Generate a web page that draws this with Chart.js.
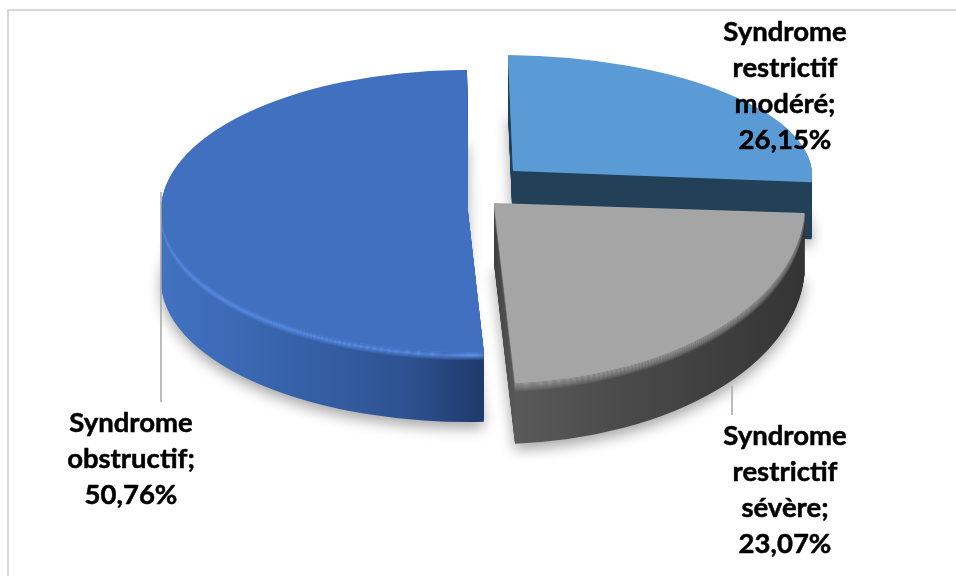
<!DOCTYPE html>
<html>
<head>
<meta charset="utf-8">
<title>Syndromes</title>
<script src="https://cdn.jsdelivr.net/npm/chart.js@4"></script>
<style>
    html, body { margin: 0; padding: 0; background: #fff; }
    canvas { display: block; }
</style>
</head>
<body>
<canvas id="graficaSyndromes" width="956" height="576"></canvas>
<script>
var categories = ['Syndrome restrictif modéré', 'Syndrome restrictif sévère', 'Syndrome obstructif'];
var values = [26.15, 23.07, 50.76];
var labelLines = [
    ['Syndrome', 'restrictif', 'modéré;'],
    ['Syndrome', 'restrictif', 'sévère;'],
    ['Syndrome', 'obstructif;']
];
var faceColors = ['#5b9bd5', '#a5a5a5', '#4270c0'];

// each slice gets its own tilt: apex on the canvas, then the "3 o'clock" and "6 o'clock" radii
var slices = [
    { apex: [513, 170], right: [299, 3], down: [5, 115], depth: 58, rim: '#5b9bd5', rimPeak: 1, rimSize: 1,
      wall: [[0, '#234059'], [1, '#234059']] },
    { apex: [494, 203], right: [311, -3], down: [6, 180], depth: 61, rim: '#7a7a7a', rimPeak: 6, rimSize: 10,
      wall: [[0.5, '#404040'], [0.525, '#5a5a5a'], [0.7, '#4a4a4a'], [1, '#343434']] },
    { apex: [468, 211], right: [307, 0], down: [1, 141], depth: 70, rim: '#5a8fe8', rimPeak: 4, rimSize: 9,
      wall: [[0, '#4272c0'], [0.2, '#3763ab'], [0.4, '#2e5291'], [0.52, '#1f3a6c']] }
];
var drawOrder = [0, 2, 1];

var labelSpots = [
    { x: 785, y: 32, pitch: 36 },
    { x: 785, y: 436, pitch: 36 },
    { x: 131, y: 423, pitch: 36 }
];
var leaders = [
    [[161, 192], [161, 402]],
    [[732, 386], [732, 415]]
];

function hexToRgb(hex) {
    return [1, 3, 5].map(function (i) { return parseInt(hex.substr(i, 2), 16); });
}

function mix(a, b, t, alpha) {
    var ca = hexToRgb(a), cb = hexToRgb(b);
    var c = ca.map(function (v, i) { return Math.round(v + (cb[i] - v) * t); });
    return 'rgba(' + c.join(',') + ',' + alpha + ')';
}

function drawArc(ctx, arc, fill) {
    var original = arc.options;
    arc.options = Object.assign({}, original, { backgroundColor: fill, borderWidth: 0 });
    arc.draw(ctx);
    arc.options = original;
}

var pie3d = {
    id: 'pie3d',
    beforeDraw: function (chart) {
        var ctx = chart.ctx;
        ctx.save();
        ctx.fillStyle = '#d9d9d9';
        ctx.fillRect(7, 9, 949, 2);
        ctx.fillRect(7, 9, 2, 567);
        ctx.restore();
    },
    beforeDatasetDraw: function (chart) {
        var ctx = chart.ctx;
        var arcs = chart.getDatasetMeta(0).data;

        drawOrder.forEach(function (i) {
            var arc = arcs[i], s = slices[i], R = arc.outerRadius;
            var face = faceColors[i];

            var place = function (dy) {
                ctx.translate(s.apex[0], s.apex[1] + dy);
                ctx.transform(s.right[0] / R, s.right[1] / R, s.down[0] / R, s.down[1] / R, 0, 0);
                ctx.translate(-arc.x, -arc.y);
            };

            var grad = ctx.createLinearGradient(arc.x - R, 0, arc.x + R, 0);
            s.wall.forEach(function (stop) { grad.addColorStop(stop[0], stop[1]); });

            // wall, stacked from the bottom up; the top layers get a soft rim over them
            for (var dy = s.depth; dy > 0; dy--) {
                ctx.save();
                if (dy === s.depth) {
                    ctx.shadowColor = 'rgba(0,0,0,0.35)';
                    ctx.shadowBlur = 14;
                    ctx.shadowOffsetY = 6;
                }
                place(dy);
                drawArc(ctx, arc, grad);
                ctx.shadowColor = 'transparent';
                if (dy <= s.rimSize) {
                    var t = Math.min(dy / s.rimPeak, 1);
                    var a = dy <= s.rimPeak ? 1 : 1 - (dy - s.rimPeak) / (s.rimSize - s.rimPeak);
                    drawArc(ctx, arc, mix(face, s.rim, t, a));
                }
                ctx.restore();
            }

            ctx.save();
            place(0);
            drawArc(ctx, arc, face);
            ctx.restore();
        });
        return false;
    },
    afterDraw: function (chart) {
        var ctx = chart.ctx;
        ctx.save();

        ctx.strokeStyle = '#a6a6a6';
        ctx.lineWidth = 1.5;
        leaders.forEach(function (l) {
            ctx.beginPath();
            ctx.moveTo(l[0][0], l[0][1]);
            ctx.lineTo(l[1][0], l[1][1]);
            ctx.stroke();
        });

        ctx.fillStyle = '#000';
        ctx.strokeStyle = '#000';
        ctx.lineWidth = 0.5;
        ctx.lineJoin = 'round';
        ctx.font = 'bold 27.5px Lato';
        ctx.textAlign = 'center';
        ctx.textBaseline = 'middle';
        labelSpots.forEach(function (spot, i) {
            var lines = labelLines[i].concat(values[i].toFixed(2).replace('.', ',') + '%');
            lines.forEach(function (line, n) {
                ctx.fillText(line, spot.x, spot.y + n * spot.pitch);
                ctx.strokeText(line, spot.x, spot.y + n * spot.pitch);
            });
        });
        ctx.restore();
    }
};

var ctx = document.getElementById('graficaSyndromes').getContext('2d');
var chart = new Chart(ctx, {
    type: 'pie',
    data: {
        labels: categories,
        datasets: [
            {
                backgroundColor: faceColors,
                borderWidth: 0,
                data: values
            }
        ]
    },
    options: {
        responsive: false,
        animation: false,
        plugins: {
            legend: { display: false },
            tooltip: { enabled: false }
        }
    },
    plugins: [pie3d]
});
</script>
</body>
</html>
